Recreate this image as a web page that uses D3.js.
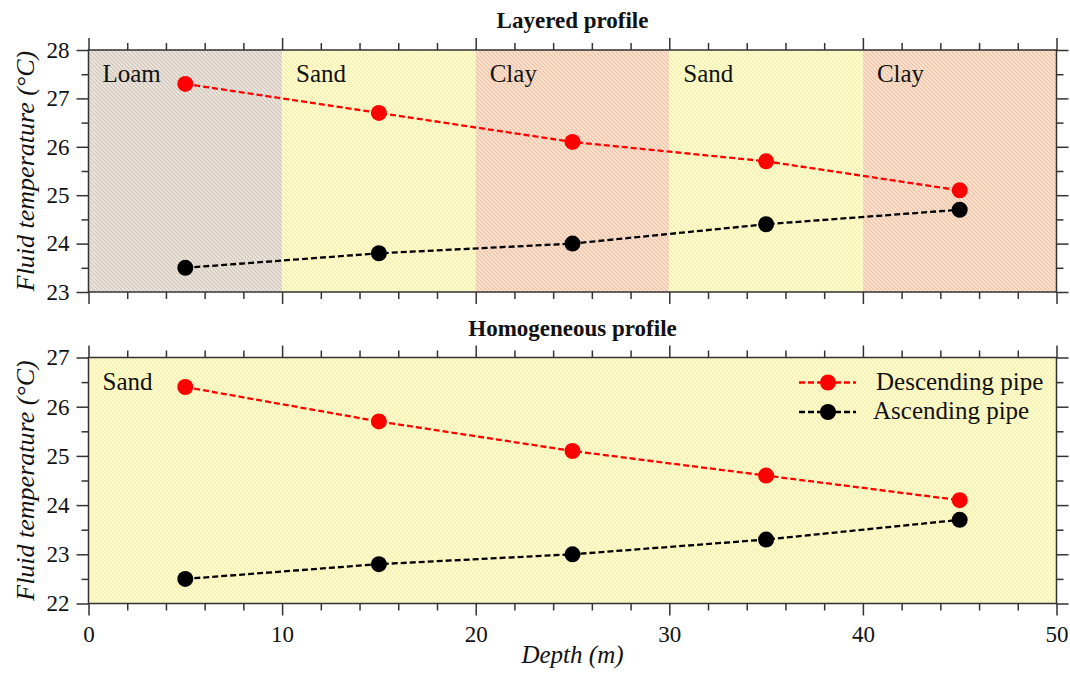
<!DOCTYPE html>
<html><head><meta charset="utf-8">
<script src="https://cdn.jsdelivr.net/npm/d3@7"></script>
<style>body{margin:0;background:#fff}</style>
</head><body>
<svg id="c" width="1070" height="679"></svg>
<script>
const depths = [5, 15, 25, 35, 45];
const layeredDesc = [27.3, 26.7, 26.1, 25.7, 25.1];
const layeredAsc = [23.5, 23.8, 24.0, 24.4, 24.7];
const homoDesc = [26.4, 25.7, 25.1, 24.6, 24.1];
const homoAsc = [22.5, 22.8, 23.0, 23.3, 23.7];
const layers = [
  {name: "Loam", from: 0, to: 10, kind: "loam"},
  {name: "Sand", from: 10, to: 20, kind: "sand"},
  {name: "Clay", from: 20, to: 30, kind: "clay"},
  {name: "Sand", from: 30, to: 40, kind: "sand"},
  {name: "Clay", from: 40, to: 50, kind: "clay"}
];
const homoLayers = [{name: "Sand", from: 0, to: 50, kind: "sand"}];
const xTicks = [0, 10, 20, 30, 40, 50];
const legendNames = ["Descending pipe", "Ascending pipe"];

const svg = d3.select("#c");
const font = "'Liberation Serif','Times New Roman',serif";
const axisColor = "#333";

// patterns
const defs = svg.append("defs");
const pat = {loam: ["#efe9e3", "#d2c5ba"], sand: ["#fdfcda", "#f8f2a8"], clay: ["#fbe6d8", "#f1c4a4"]};
Object.entries(pat).forEach(([k, [bg, fg]]) => {
  const p = defs.append("pattern").attr("id", "p-" + k).attr("patternUnits", "userSpaceOnUse")
    .attr("width", 4).attr("height", 4);
  p.append("rect").attr("width", 4).attr("height", 4).attr("fill", bg);
  p.append("path").attr("d", "M-1,-1 L5,5 M-1,3 L1,5 M3,-1 L5,1").attr("stroke", fg).attr("stroke-width", 1.3);
});

const x = d3.scaleLinear().domain([0, 50]).range([88.5, 1056.5]);

function panel(opts) {
  const y = d3.scaleLinear().domain(opts.yDomain).range([opts.bottom, opts.top]);
  const g = svg.append("g");
  // backgrounds
  g.selectAll("rect.layer").data(opts.layers).join("rect")
    .attr("x", d => x(d.from)).attr("width", d => x(d.to) - x(d.from))
    .attr("y", opts.top).attr("height", opts.bottom - opts.top)
    .attr("fill", d => `url(#p-${d.kind})`);
  g.selectAll("text.layer").data(opts.layers).join("text")
    .attr("x", d => x(d.from) + 14).attr("y", opts.top + 32)
    .attr("font-family", font).attr("font-size", 25).attr("fill", "#111")
    .text(d => d.name);
  // title
  svg.append("text").attr("x", (x(0) + x(50)) / 2).attr("y", opts.top - 22)
    .attr("text-anchor", "middle").attr("font-family", font).attr("font-weight", "bold")
    .attr("font-size", 23).attr("fill", "#111").text(opts.title);
  // axes
  const yMinor = d3.range(opts.yDomain[0], opts.yDomain[1] + 0.001, 0.5).filter(v => v % 1 !== 0);
  const yMajor = d3.range(opts.yDomain[0], opts.yDomain[1] + 0.001, 1);
  const xMinor = d3.range(0, 50.001, 2).filter(v => v % 10 !== 0);
  g.append("g").attr("transform", `translate(${x(0)},0)`)
    .call(d3.axisLeft(y).tickValues(yMajor).tickFormat(d3.format("d")).tickSize(12).tickPadding(7));
  g.append("g").attr("transform", `translate(${x(0)},0)`)
    .call(d3.axisLeft(y).tickValues(yMinor).tickFormat("").tickSize(7));
  g.append("g").attr("transform", `translate(${x(50)},0)`)
    .call(d3.axisRight(y).tickValues(yMajor).tickFormat("").tickSize(12));
  g.append("g").attr("transform", `translate(${x(50)},0)`)
    .call(d3.axisRight(y).tickValues(yMinor).tickFormat("").tickSize(7));
  g.append("g").attr("transform", `translate(0,${opts.top})`)
    .call(d3.axisTop(x).tickValues(xTicks).tickFormat("").tickSize(12));
  g.append("g").attr("transform", `translate(0,${opts.top})`)
    .call(d3.axisTop(x).tickValues(xMinor).tickFormat("").tickSize(7));
  g.append("g").attr("transform", `translate(0,${opts.bottom})`)
    .call(d3.axisBottom(x).tickValues(xTicks).tickFormat(opts.xLabels ? d3.format("d") : "").tickSize(12).tickPadding(10));
  g.append("g").attr("transform", `translate(0,${opts.bottom})`)
    .call(d3.axisBottom(x).tickValues(xMinor).tickFormat("").tickSize(7));
  g.selectAll(".domain").remove();
  g.selectAll(".tick line").attr("stroke", axisColor).attr("stroke-width", 1.5);
  g.selectAll(".tick text").attr("font-family", font).attr("font-size", 23).attr("fill", "#111");
  // frame
  g.append("rect").attr("x", x(0)).attr("y", opts.top).attr("width", x(50) - x(0))
    .attr("height", opts.bottom - opts.top).attr("fill", "none").attr("stroke", axisColor).attr("stroke-width", 1.5);
  // y label
  svg.append("text").attr("transform", `translate(34,${(opts.top + opts.bottom) / 2}) rotate(-90)`)
    .attr("text-anchor", "middle").attr("font-family", font).attr("font-style", "italic")
    .attr("font-size", 26).attr("fill", "#111").text("Fluid temperature (°C)");
  // series
  const series = [{vals: opts.desc, color: "#ff0000"}, {vals: opts.asc, color: "#000"}];
  const line = d3.line().x((d, i) => x(depths[i])).y(d => y(d));
  series.forEach(s => {
    g.append("path").datum(s.vals).attr("d", line).attr("fill", "none")
      .attr("stroke", s.color).attr("stroke-width", 2.3).attr("stroke-dasharray", "6,3");
    g.selectAll(null).data(s.vals).join("circle")
      .attr("cx", (d, i) => x(depths[i])).attr("cy", d => y(d)).attr("r", 8).attr("fill", s.color);
  });
  return y;
}

panel({top: 50, bottom: 292, yDomain: [23, 28], layers, title: "Layered profile",
  desc: layeredDesc, asc: layeredAsc, xLabels: false});
panel({top: 357.5, bottom: 603.5, yDomain: [22, 27], layers: homoLayers, title: "Homogeneous profile",
  desc: homoDesc, asc: homoAsc, xLabels: true});

// legend
const leg = svg.append("g");
[["#ff0000", 382.5], ["#000", 412]].forEach(([c, yy], i) => {
  leg.append("line").attr("x1", 799).attr("x2", 856).attr("y1", yy).attr("y2", yy)
    .attr("stroke", c).attr("stroke-width", 2.3).attr("stroke-dasharray", "6,3");
  leg.append("circle").attr("cx", 828).attr("cy", yy).attr("r", 8).attr("fill", c);
  leg.append("text").attr("x", i === 0 ? 876 : 873).attr("y", yy + 7)
    .attr("font-family", font).attr("font-size", 25).attr("fill", "#111").text(legendNames[i]);
});

// x label
svg.append("text").attr("x", (x(0) + x(50)) / 2).attr("y", 663).attr("text-anchor", "middle")
  .attr("font-family", font).attr("font-style", "italic").attr("font-size", 25).attr("fill", "#111")
  .text("Depth (m)");
</script>
</body></html>
